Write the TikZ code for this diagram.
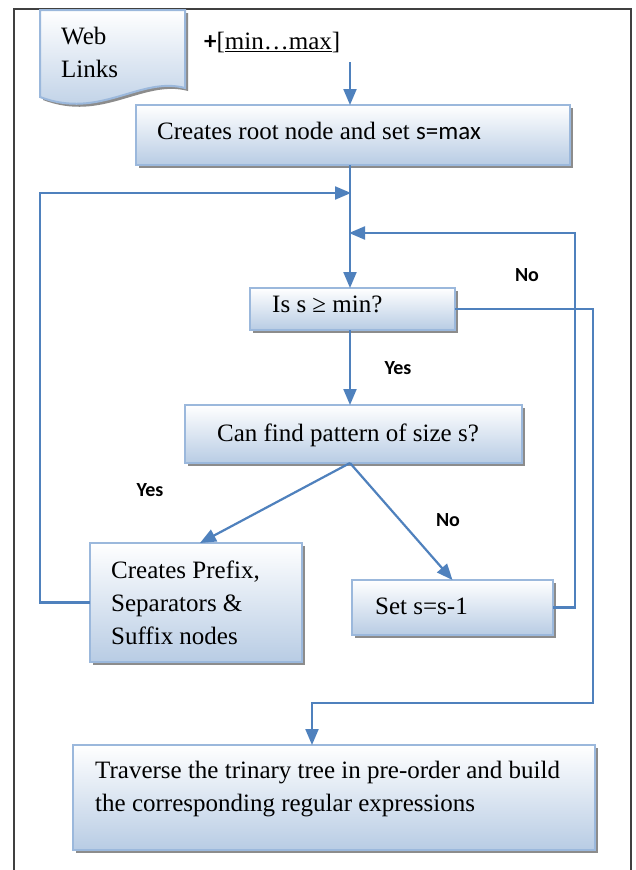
\documentclass[tikz,border=0pt]{standalone}
\usepackage{fontspec}
\setmainfont{Liberation Serif}
\newfontfamily\lblfont{Carlito}
\usetikzlibrary{arrows.meta,shadows,calc}
\definecolor{linec}{RGB}{79,129,189}
\definecolor{boxb}{RGB}{184,204,228}
\definecolor{boxd}{RGB}{155,184,220}
\begin{document}
\begin{tikzpicture}[x=1pt,y=-1pt,
  box/.style={draw=boxd, line width=2pt, top color=white, bottom color=boxb,
    inner sep=0pt, outer sep=0pt,
    drop shadow={shadow xshift=3pt, shadow yshift=-3pt, fill=black!60, opacity=0.75}},
  txt/.style={font=\fontsize{25}{33}\selectfont, inner sep=0pt, align=left},
  lbl/.style={font=\lblfont\bfseries\fontsize{20}{22}\selectfont, inner sep=0pt},
  conn/.style={draw=linec, line width=2.2pt},
  arr/.style={conn, -{Triangle[length=16pt,width=13pt]}}]

\useasboundingbox (0,0) rectangle (636,870);
\fill[white] (0,0) rectangle (636,870);
\draw[line width=2pt, black!75] (14,870) -- (14,9) -- (631,9) -- (631,870);

% document shape
\path[draw=boxd, line width=2pt, top color=white, bottom color=boxb,
  drop shadow={shadow xshift=3pt, shadow yshift=-3pt, fill=black!60, opacity=0.75}]
  (40,10) -- (185,10) -- (185,88) .. controls (140,76) and (100,120) .. (40,97) -- cycle;
\node[txt, anchor=west] (webt) at (61,52) {Web\\Links};

% boxes
\node[box, minimum width=434pt, minimum height=60pt] (root) at (353,135) {};
\node[box, minimum width=205pt, minimum height=42pt] (is) at (352.5,309) {};
\node[box, minimum width=337pt, minimum height=58pt] (can) at (353.5,434) {};
\node[box, minimum width=212pt, minimum height=119pt] (pre) at (196,602.5) {};
\node[box, minimum width=201pt, minimum height=55pt] (set) at (452.5,607.5) {};
\node[box, minimum width=522pt, minimum height=105pt] (trav) at (334,797.5) {};

% texts
\node[anchor=west, inner sep=0pt, font=\fontsize{25}{28}\selectfont] (range) at (204,42) {{\lblfont\bfseries +}[\underline{min…max}]};
\node[txt, anchor=west] (roott) at (157,131) {Creates root node and set {\lblfont s=max}};
\node[txt, anchor=west] (ist) at (272,304) {Is s ≥ min?};
\node[txt] (cant) at (348,435) {Can find pattern of size s?};
\node[txt, anchor=west] (pret) at (111,603) {Creates Prefix,\\Separators \&\\Suffix nodes};
\node[txt, anchor=west] (sett) at (375,606) {Set s=s-1};
\node[txt, anchor=west] (travt) at (95,789) {Traverse the trinary tree in pre-order and build\\the corresponding regular expressions};

% labels
\node[lbl] (no1) at (527,275) {No};
\node[lbl] (yes1) at (398,368) {Yes};
\node[lbl] (yes2) at (150,490) {Yes};
\node[lbl] (no2) at (448,520) {No};

% connectors
\coordinate (start) at (350,62);
\coordinate (j1) at (351,193);
\coordinate (j2) at (349,233);
\coordinate (r1) at (593,703);
\draw[arr] (start) -- (start |- root.north);
\draw[arr] (start |- root.south) -- (start |- is.north);
\draw[arr] (pre.west) -- ++(-50,0) |- (j1);
\draw[arr] (set.east) -- ++(22,0) |- (j2);
\draw[arr] (is.east) -| (r1) -| ($(trav.north)+(-22,0)$);
\draw[arr] (start |- is.south) -- (start |- can.north);
\draw[arr] (start |- can.south) -- ($(pre.north)+(4,0)$);
\draw[arr] (start |- can.south) -- (set.north);
\end{tikzpicture}
\end{document}
